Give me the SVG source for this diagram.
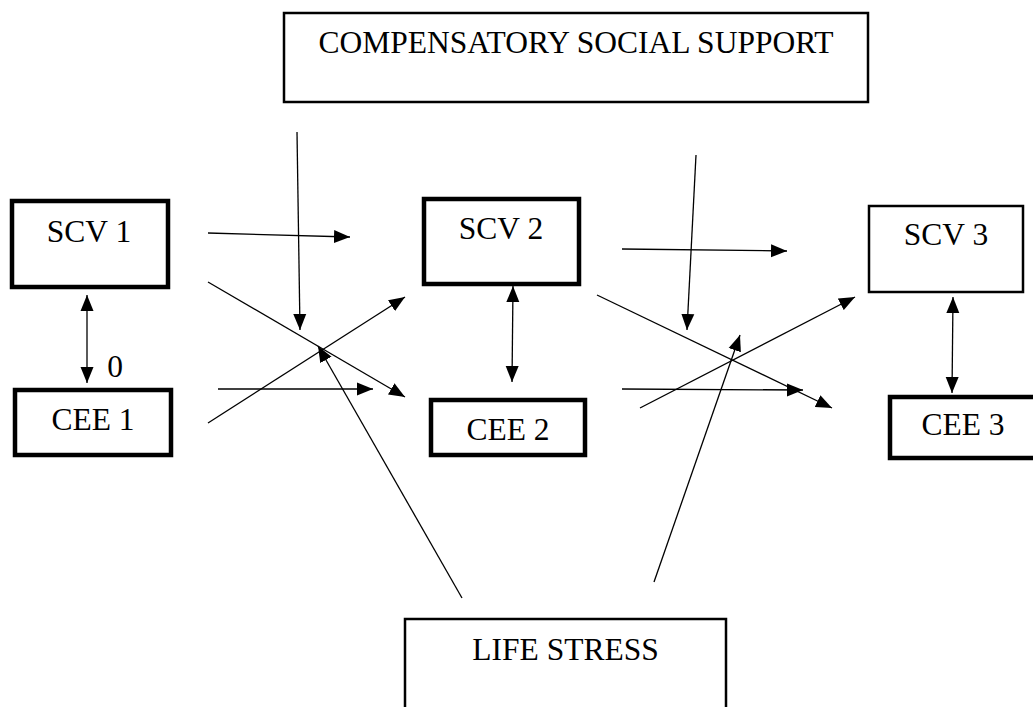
<svg xmlns="http://www.w3.org/2000/svg" width="1033" height="707" viewBox="0 0 1033 707">
<style>
.box{fill:#fff;stroke:#000}
.thick{stroke-width:4.5}
.thin{stroke-width:2.5}
.lbl{font-family:"Liberation Serif","Times New Roman",serif;font-size:31.5px;fill:#000;text-anchor:middle}
.c{stroke:#000;stroke-width:1.3;fill:none;marker-end:url(#ah)}
.d{marker-start:url(#ah)}
</style>
<defs>
<marker id="ah" markerUnits="userSpaceOnUse" markerWidth="17" markerHeight="14" refX="16" refY="6.5" orient="auto-start-reverse" viewBox="0 0 17 13">
<path d="M0,0 L16,6.5 L0,13 z" fill="#000"/>
</marker>
</defs>
<rect width="1033" height="707" fill="#fff"/>
<g id="css"><rect class="box thin" x="284" y="13" width="584" height="89"/><text class="lbl" x="576" y="53">COMPENSATORY SOCIAL SUPPORT</text></g>
<g id="scv1"><rect class="box thick" x="12" y="201" width="156" height="86"/><text class="lbl" x="89" y="242">SCV 1</text></g>
<g id="cee1"><rect class="box thick" x="15" y="390" width="156" height="65"/><text class="lbl" x="93" y="430">CEE 1</text></g>
<g id="scv2"><rect class="box thick" x="424" y="199" width="155" height="85"/><text class="lbl" x="501" y="239">SCV 2</text></g>
<g id="cee2"><rect class="box thick" x="431" y="400" width="154" height="55"/><text class="lbl" x="508" y="440">CEE 2</text></g>
<g id="scv3"><rect class="box thin" x="869" y="206" width="154" height="86"/><text class="lbl" x="946" y="245">SCV 3</text></g>
<g id="cee3"><rect class="box thick" x="890" y="397" width="150" height="61"/><text class="lbl" x="963" y="435">CEE 3</text></g>
<g id="lifestress"><rect class="box thin" x="405" y="619" width="321" height="100"/><text class="lbl" x="565.5" y="660">LIFE STRESS</text></g>
<g id="connectors">
<line class="c" x1="208" y1="233" x2="350" y2="237"/>
<line class="c" x1="208" y1="282" x2="405" y2="397"/>
<line class="c" x1="297" y1="132" x2="300" y2="330"/>
<line class="c" x1="208" y1="423" x2="405" y2="297"/>
<line class="c" x1="218" y1="389" x2="373" y2="389"/>
<line class="c" x1="462" y1="598" x2="318" y2="346"/>
<line class="c d" x1="87" y1="295" x2="87" y2="383"/>
<line class="c d" x1="513" y1="286" x2="512" y2="382"/>
<line class="c" x1="622" y1="249" x2="787" y2="251"/>
<line class="c" x1="696" y1="155" x2="687" y2="330"/>
<line class="c" x1="597" y1="295" x2="832" y2="408"/>
<line class="c" x1="622" y1="389" x2="803" y2="390"/>
<line class="c" x1="640" y1="408" x2="855" y2="297"/>
<line class="c" x1="654" y1="582" x2="740" y2="335"/>
<line class="c d" x1="953" y1="297" x2="952" y2="393"/>
<text class="lbl" x="115" y="377">0</text>
</g>
</svg>
